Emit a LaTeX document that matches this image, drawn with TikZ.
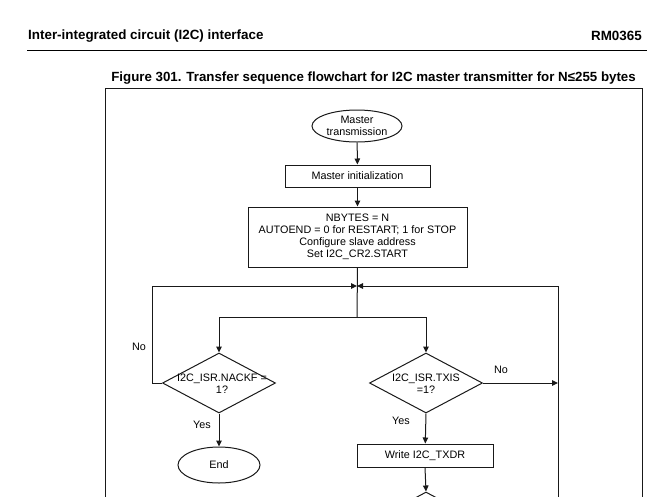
\documentclass[tikz,border=0pt]{standalone}
\usepackage{fontspec}
\setmainfont{Liberation Sans}
\usetikzlibrary{shapes.geometric,arrows.meta}
\begin{document}
\begin{tikzpicture}[x=1pt,y=-1pt,
  line/.style={draw=black!90,line width=1pt},
  arr/.style={line,-{Triangle[length=6pt,width=5.5pt]}},
  box/.style={line,rectangle,inner sep=0pt,font=\fontsize{10.8}{12}\selectfont,align=center},
  oval/.style={line,ellipse,inner sep=0pt,font=\fontsize{10.8}{12}\selectfont,align=center},
  dia/.style={line,diamond,inner sep=0pt,minimum width=113pt,minimum height=60pt},
  txt/.style={inner sep=0pt,font=\fontsize{10.8}{12}\selectfont,align=center},
  head/.style={inner sep=0pt,anchor=west,font=\fontsize{13.4}{15}\selectfont\bfseries}]
\useasboundingbox (0,0) rectangle (656,496);
\clip (0,0) rectangle (656,496);
% header
\node[head] (hdr) at (28,36) {Inter-integrated circuit (I2C) interface};
\node[head,anchor=east] (rm) at (642,36) {RM0365};
\draw[line width=0.8pt] (27,50) -- (647,50);
\node[inner sep=0pt,anchor=east,font=\fontsize{13.3}{15}\selectfont\bfseries] (cap) at (636,78) {Figure 301. Transfer sequence flowchart for I2C master transmitter for N≤255 bytes};
% frame
\draw[line] (105,510) -- (105,88) -- (642,88) -- (642,510);
% nodes
\node[oval,minimum width=90pt,minimum height=32pt] (start) at (357,126) {Master\\transmission};
\node[box,minimum width=145pt,minimum height=22pt] (init) at (357.5,176) {Master initialization};
\node[box,minimum width=219pt,minimum height=60pt] (cfg) at (357.5,237) {NBYTES = N\\AUTOEND = 0 for RESTART; 1 for STOP\\Configure slave address\\Set I2C\_CR2.START};
\node[dia] (nackf) at (219,383) {};
\node[txt] (nackft) at (222,384) {I2C\_ISR.NACKF =\\1?};
\node[oval,minimum width=82pt,minimum height=36pt] (end) at (219,465) {End};
\node[dia] (txis) at (426,383) {};
\node[txt] (txist) at (426,384) {I2C\_ISR.TXIS\\=1?};
\node[box,minimum width=136pt,minimum height=23pt] (write) at (425,455.5) {Write I2C\_TXDR};
\node[dia] (next) at (426,522) {};
% coordinates
\coordinate (j) at (357,286);
\coordinate (split) at (357,317);
\coordinate (lx) at (152,286);
\coordinate (rx) at (558,383);
\coordinate (rb) at (558,510);
% connectors
\draw[arr] (start) -- (init);
\draw[arr] (init) -- (cfg);
\draw[line] (cfg.south) -- (split);
\draw[arr] (split) -| (nackf.north);
\draw[arr] (split) -| (txis.north);
\draw[arr] (nackf.west) -| (lx) -- (j);
\draw[arr] (rb) |- (j);
\draw[arr] (txis.east) -- (rx);
\draw[arr] (nackf.south) -- (end);
\draw[arr] (txis.south) -- (write);
\draw[arr] (write.south) -- (next.north);
% labels
\node[txt] (no1) at (139,347) {No};
\node[txt] (yes1) at (202,425) {Yes};
\node[txt] (no2) at (501,370) {No};
\node[txt] (yes2) at (401,421) {Yes};
\end{tikzpicture}
\end{document}
